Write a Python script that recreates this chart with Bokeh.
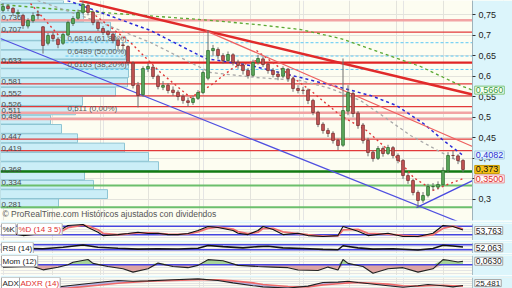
from bokeh.plotting import figure
from bokeh.layouts import column
from bokeh.models import Range1d, FixedTicker, CustomJSTickFormatter, Label, Grid, LinearAxis
from bokeh.core.properties import value
from bokeh.embed import file_html
from bokeh.resources import INLINE

FONT = "Liberation Sans"
W = 512
BG = "#fdfdf1"
SIDE = "#dcf5fb"
GRIDC = "#e3e3dc"
X_END = 93.9      # last bar slot of the chart area (price axis starts here)
X_MAX = 101.9     # right edge of the page

# ---------------- price data (daily candles) ----------------
opens = [0.760,0.770,0.765,0.752,0.748,0.722,0.735,0.750,0.720,0.680,
         0.700,0.690,0.680,0.700,0.728,0.741,0.755,0.772,0.756,0.731,
         0.716,0.708,0.702,0.688,0.676,0.672,0.632,0.578,0.555,0.618,
         0.622,0.600,0.573,0.578,0.566,0.561,0.551,0.540,0.536,0.546,
         0.560,0.595,0.662,0.665,0.650,0.638,0.652,0.634,0.627,0.614,
         0.602,0.634,0.642,0.629,0.614,0.605,0.600,0.617,0.594,0.570,
         0.566,0.566,0.541,0.512,0.483,0.468,0.461,0.444,0.432,0.515,
         0.558,0.510,0.481,0.444,0.415,0.400,0.424,0.412,0.426,0.407,
         0.395,0.358,0.346,0.317,0.298,0.310,0.331,0.330,0.336,0.370,
         0.407,0.406,0.395]
closes = [0.7695,0.7646,0.7549,0.7549,0.7232,0.7354,0.7476,0.7476,0.6746,0.6989,
          0.6916,0.6770,0.7013,0.7305,0.7403,0.7549,0.7743,0.7549,0.7305,0.7159,
          0.7062,0.7013,0.6867,0.6746,0.6746,0.6332,0.5773,0.5529,0.6186,0.6235,
          0.5991,0.5748,0.5773,0.5651,0.5602,0.5505,0.5408,0.5359,0.5456,0.5602,
          0.6089,0.6624,0.6673,0.6502,0.6381,0.6527,0.6332,0.6259,0.6137,0.6016,
          0.6332,0.6429,0.6283,0.6137,0.6040,0.5991,0.6186,0.5943,0.5700,0.5651,
          0.5651,0.5408,0.5116,0.4824,0.4678,0.4605,0.4434,0.4313,0.5164,0.5602,
          0.5091,0.4800,0.4434,0.4142,0.3996,0.4240,0.4118,0.4264,0.4069,0.3947,
          0.3582,0.3461,0.3169,0.2975,0.3096,0.3315,0.3315,0.3364,0.3704,0.4069,
          0.4069,0.3947,0.3730]
highs = [0.778,0.775,0.768,0.762,0.752,0.741,0.755,0.760,0.722,0.705,
         0.708,0.695,0.706,0.735,0.746,0.762,0.784,0.778,0.760,0.736,
         0.722,0.712,0.706,0.692,0.684,0.675,0.636,0.586,0.624,0.632,
         0.626,0.604,0.588,0.583,0.575,0.566,0.556,0.548,0.552,0.566,
         0.614,0.712,0.676,0.670,0.656,0.660,0.656,0.640,0.632,0.620,
         0.640,0.652,0.648,0.633,0.620,0.612,0.624,0.620,0.598,0.578,
         0.574,0.570,0.545,0.516,0.488,0.474,0.466,0.448,0.643,0.578,
         0.562,0.515,0.486,0.450,0.420,0.430,0.429,0.433,0.430,0.412,
         0.398,0.364,0.350,0.322,0.318,0.338,0.340,0.344,0.378,0.415,
         0.418,0.410,0.398]
lows = [0.755,0.758,0.748,0.745,0.715,0.716,0.730,0.738,0.655,0.675,
        0.684,0.668,0.676,0.697,0.722,0.737,0.750,0.748,0.724,0.710,
        0.700,0.694,0.680,0.666,0.664,0.626,0.570,0.524,0.550,0.610,
        0.593,0.568,0.566,0.558,0.552,0.541,0.533,0.526,0.530,0.542,
        0.556,0.590,0.650,0.642,0.630,0.634,0.626,0.618,0.604,0.594,
        0.598,0.628,0.622,0.606,0.597,0.590,0.595,0.586,0.562,0.558,
        0.556,0.532,0.505,0.476,0.460,0.452,0.436,0.420,0.428,0.505,
        0.500,0.472,0.436,0.405,0.392,0.396,0.404,0.408,0.400,0.388,
        0.350,0.338,0.310,0.281,0.292,0.305,0.322,0.324,0.332,0.365,
        0.398,0.386,0.366]
bars = list(range(len(closes)))
month_breaks = [9.9, 19.5, 29.1, 39.3, 49.5, 59.3, 69.3, 78.7, 88.1]

# volume-by-price profile
vp_price = [0.2905,0.3131,0.3358,0.3584,0.3810,0.4037,0.4263,0.4489,0.4716,0.4942,
            0.5168,0.5395,0.5621,0.5847,0.6074,0.6300,0.6526,0.6753,0.6979,0.7205,
            0.7432,0.7658,0.7884]
vp_volume = [58,107,93,84,158,148,124,77,61,50,75,82,115,127,128,128,125,115,115,110,83,82,63]

# support / resistance levels from the profile
levels = [0.736,0.707,0.633,0.581,0.552,0.526,0.511,0.496,0.447,0.419,0.368,0.334,0.281]
level_labels = ["0,736","0,707","0,633","0,581","0,552","0,526","0,511","0,496",
                "0,447","0,419","0,368","0,334","0,281"]
level_kind = ["pink","red","thick","red","red","red","pink","pink","red","red","green2","green","green"]

# fibonacci retracement
fib_levels = [0.6814, 0.6489, 0.6163, 0.511]
fib_labels = ["0,6814 (61,80%)", "0,6489 (50,00%)", "0,6163 (38,20%)", "0,511 (0,00%)"]
fib_start = 12.5

# moving averages / bands
ma_long_x = [-0.5, 11.5, 25.5, 39.5, 50.7, 59.5, 67.5, 75.5, 83.5, 91.5, 93.9]
ma_long_y = [0.7743, 0.7622, 0.7500, 0.7378, 0.7257, 0.7135, 0.6916, 0.6575, 0.6235, 0.5773, 0.5660]
ma_blue_x = [12.9, 29.5, 40.5, 49.5, 59.5, 67.5, 73.5, 78.7, 84.1, 88.1, 91.9]
ma_blue_y = [0.7841, 0.7111, 0.6430, 0.6260, 0.5966, 0.5724, 0.5529, 0.5286, 0.4848, 0.4434, 0.4082]
ma_gray_x = [6.9, 19.5, 29.5, 41.5, 50.7, 59.5, 65.5, 71.5, 76.7, 81.5, 87.7, 92.1]
ma_gray_y = [0.7841, 0.7305, 0.6819, 0.6089, 0.5967, 0.5894, 0.5699, 0.5407, 0.4969, 0.4556, 0.4142, 0.3875]
red_a_x = [5.5, 8.5, 11.5]
red_a_y = [0.7768, 0.7354, 0.6940]
red_b_x = [18.5, 25.5, 31.5, 37.5, 41.5, 46.1, 50.7]
red_b_y = [0.7476, 0.6819, 0.6089, 0.5480, 0.5772, 0.6210, 0.6381]
red_c_x = [50.7, 56.1, 61.5, 67.5, 72.7, 78.7, 82.1, 85.5]
red_c_y = [0.6624, 0.6137, 0.5651, 0.5043, 0.4678, 0.4021, 0.3534, 0.3266]
red_d_x = [85.9, 88.9, 91.9]
red_d_y = [0.3218, 0.3364, 0.3500]

# trend lines
trend_thick_x = [15.3, 93.9]; trend_thick_y = [0.784, 0.5554]
trend_thin_x = [40.5, 93.9]; trend_thin_y = [0.711, 0.4288]
chan_blue_x = [-0.5, 93.9]; chan_blue_y = [0.6916, 0.2318]
supp_blue_x = [82.7, 93.9]; supp_blue_y = [0.2804, 0.3460]

# indicators
k_idx = [0,4,8,10,12,13,16,17,19,20,23,25,27,29,31,33,35,37,39,41,43,46,47,49,51,52,54,56,59,61,64,67,68,71,73,77,80,83,86,88,90,92]
k_val = [38,14,29,36,64,86,93,71,38,14,21,29,38,29,31,21,21,29,50,79,71,50,31,21,50,79,57,21,31,14,7,14,79,45,14,31,7,7,31,86,79,54]
d_val = [40,22,24,33,50,70,88,82,55,30,20,26,33,33,30,25,22,26,40,65,74,60,42,28,38,64,66,40,28,20,10,12,55,58,30,25,15,8,20,65,82,60]
rsi_idx = [0,4,8,12,16,19,23,27,31,35,39,41,44,48,51,53,56,60,64,67,68,71,74,78,81,83,86,88,90,92]
rsi_val = [51,42,38,50,68,50,42,35,38,36,42,64,55,45,55,58,45,40,33,30,62,45,35,38,32,28,40,66,60,52]
mom_idx = [0,6,8,11,13,14,17,18,21,24,26,29,31,34,37,39,41,44,47,51,54,57,59,63,65,67,68,69,72,74,77,80,83,86,88,89,91,92]
mom_val = [-0.042,-0.03,-0.088,-0.042,0.0,0.046,0.093,0.025,-0.03,-0.07,
           -0.128,-0.07,0.03,-0.03,-0.05,-0.01,0.09,0.07,-0.01,-0.03,
           -0.04,-0.05,-0.09,-0.1,-0.04,-0.09,0.093,0.025,-0.03,-0.147,
           -0.07,-0.05,-0.128,-0.07,0.09,0.08,0.05,0.063]
adx_idx = [0,5,8,13,19,23,26,29,34,39,43,46,50,52,57,61,64,67,69,71,77,80,83,85,88,90,92]
adx_val = [14,13,17,25,33,38,36,37,40,42,38,32,25,22,19,24,33,34,36,33,25,21,25,28,25,22,25.5]
adxr_val = [16,15,15,19,26,31,34,36,38,40,40,37,32,28,23,22,27,30,32,33,29,25,24,25,26,25,24]

x_range = Range1d(-0.5, X_MAX)


def make_fig(h, top_border, bottom_border, yr):
    f = figure(width=W, height=h, x_range=x_range, y_range=yr, output_backend="svg",
               toolbar_location=None, x_axis_location=None, y_axis_location=None,
               min_border_left=0, min_border_right=0, min_border_top=top_border,
               min_border_bottom=bottom_border, background_fill_color=BG,
               border_fill_color=SIDE, outline_line_color=None)
    f.add_layout(Grid(dimension=0, ticker=FixedTicker(ticks=month_breaks),
                      grid_line_color=GRIDC, grid_line_width=1))
    # price-scale strip on the right
    f.quad(left=X_END, right=X_MAX, bottom=yr.start, top=yr.end,
           fill_color=SIDE, line_color=None)
    f.segment(x0=X_END, y0=yr.start, x1=X_END, y1=yr.end, line_color="#a9bec6", line_width=1)
    return f


def hline(f, y, color, width, dash="solid", x0=-0.5):
    f.segment(x0=x0, y0=y, x1=X_END, y1=y, line_color=color, line_width=width, line_dash=dash)


def side_label(f, y, text, color, bg, border, size="9px"):
    f.add_layout(Label(x=X_END + 0.45, y=y, text=text, text_color=color,
                       text_font=FONT, text_font_size=size, text_baseline="middle",
                       background_fill_color=bg, border_line_color=border, padding=1))


def title_label(f, x, ytop, text, color):
    f.add_layout(Label(x=x, y=ytop, x_units="screen", y_units="screen", text=text,
                       text_color=color, text_font=FONT, text_font_size="8px",
                       text_baseline="top", background_fill_color="#ffffff",
                       border_line_color="#a8a8a8", padding=1))

# ---------------- main price panel ----------------
p = make_fig(221, 0, 1, Range1d(0.2488, 0.7841))
p.extra_x_ranges = {"vol": Range1d(0, 512)}
yax = LinearAxis(ticker=FixedTicker(ticks=[0.3, 0.35, 0.4, 0.45, 0.5, 0.55, 0.6, 0.65, 0.7, 0.75]),
                 formatter=CustomJSTickFormatter(code="let s = tick.toFixed(2); if (s.endsWith('0')) s = s.slice(0, -1); return s.replace('.', ',');"),
                 fixed_location=X_END,
                 major_label_text_font=FONT, major_label_text_font_size="9px",
                 major_label_text_color="#222222", axis_line_color="#9fb3bb",
                 major_tick_line_color="#333333", major_tick_out=3, major_tick_in=0,
                 minor_tick_line_color=None, major_label_standoff=3)
p.add_layout(yax, "right")
p.add_layout(Grid(dimension=1, ticker=yax.ticker, grid_line_color=GRIDC))

# volume profile
p.hbar(y=vp_price, left=0, right=vp_volume, height=0.0215, x_range_name="vol",
       fill_color="#cbeef7", line_color="#8ec5d3", line_width=1)

# horizontal levels
style = {"pink": ("#f2a4a4", 2.5), "red": ("#e23a3a", 1.3), "thick": ("#e02424", 2.2),
         "green2": ("#127a12", 2.6), "green": ("#6cbf6c", 1.8)}
for lv, kind in zip(levels, level_kind):
    c, w = style[kind]
    hline(p, lv, c, w)
for fl in fib_levels[:3]:
    hline(p, fl, "#5cc8f5", 1, dash="3 2", x0=fib_start)

# moving-average style curves
p.line(ma_long_x, ma_long_y, line_color="#5aa832", line_dash="3 3", line_width=1.3)
p.line(ma_gray_x, ma_gray_y, line_color="#a8a8a8", line_dash="3 3", line_width=1.3)
p.line(ma_blue_x, ma_blue_y, line_color="#2a2ad8", line_dash="3 3", line_width=1.5)
for xs, ys in [(red_a_x, red_a_y), (red_b_x, red_b_y), (red_c_x, red_c_y), (red_d_x, red_d_y)]:
    p.line(xs, ys, line_color="#e03a3a", line_dash="2 3", line_width=1.4)

# trend lines
p.line(trend_thick_x, trend_thick_y, line_color="#e02a2a", line_width=2.4)
p.line(trend_thin_x, trend_thin_y, line_color="#ee6060", line_width=1.3)
p.line(chan_blue_x, chan_blue_y, line_color="#5050e0", line_width=1.2)
p.line(supp_blue_x, supp_blue_y, line_color="#4848e0", line_width=1.4)

# candles
ups = [c >= o for o, c in zip(opens, closes)]
body_top = [max(o, c) for o, c in zip(opens, closes)]
body_bot = [min(o, c) for o, c in zip(opens, closes)]
fills = ["#5eaa5e" if u else "#c65555" for u in ups]
edges = ["#2f6f2f" if u else "#7a3434" for u in ups]
p.segment(x0=bars, y0=lows, x1=bars, y1=highs, line_color="#6e6e6e", line_width=1)
p.vbar(x=bars, width=0.55, top=body_top, bottom=body_bot, fill_color=fills,
       line_color=edges, line_width=0.8)

# texts
p.text(x=[-0.3] * len(levels), y=levels, text=level_labels, text_font=value(FONT),
       text_font_size="8px", text_color="#4a4a4a", text_baseline="bottom")
p.text(x=[fib_start + 0.4] * len(fib_levels), y=fib_levels, text=fib_labels,
       text_font=value(FONT), text_font_size="8px", text_color="#5a5a5a",
       text_baseline="bottom")
p.add_layout(Label(x=2, y=2, x_units="screen", y_units="screen",
                   text="\u00a9 ProRealTime.com  Hist\u00f3ricos ajustados con dividendos",
                   text_font=FONT, text_font_size="8.5px", text_color="#555555",
                   text_baseline="bottom"))
side_label(p, 0.5660, "0,5660", "#3a9a3a", "#f6fff6", "#7cc47c")
side_label(p, 0.4082, "0,4082", "#2e2ed0", "#e4f8ff", "#a8cce0")
side_label(p, 0.3500, "0,3500", "#e02828", "#fff6f6", "#e89090")
side_label(p, 0.3730, "0,373", "#111111", "#f6c21a", "#c89a00")

# ---------------- stochastic ----------------
ps = make_fig(19, 2, 0, Range1d(-21, 100))
for lv in [20, 80]:
    hline(ps, lv, "#4646e0", 1.5)
ps.line(k_idx, d_val, line_color="#ee7070", line_width=1.8)
ps.line(k_idx, k_val, line_color="#111111", line_width=1.1)
title_label(ps, 1, 17, "%K", "#222222")
title_label(ps, 17, 17, "%D (14 3 5)", "#e03030")
side_label(ps, 50.0, "53,763", "#222222", "#ffffff", "#a0a0a0", size="8.5px")

# ---------------- RSI ----------------
pr = make_fig(13, 2, 0, Range1d(0, 88))
for lv in [30, 70]:
    hline(pr, lv, "#4646e0", 1.4)
pr.line(rsi_idx, rsi_val, line_color="#111111", line_width=1.6)
title_label(pr, 1, 11, "RSI (14)", "#222222")
side_label(pr, 46.0, "52,063", "#222222", "#ffffff", "#a0a0a0", size="8.5px")

# ---------------- Momentum ----------------
pm = make_fig(22, 2, 0, Range1d(-0.187, 0.163))
mom_pos = [v if v > 0 else 0 for v in mom_val]
mom_neg = [v if v < 0 else 0 for v in mom_val]
pm.varea(x=mom_idx, y1=0, y2=mom_pos, fill_color="#9fd08f", fill_alpha=0.9)
pm.varea(x=mom_idx, y1=0, y2=mom_neg, fill_color="#d99a9a", fill_alpha=0.9)
hline(pm, 0, "#4646e0", 1.4)
pm.line(mom_idx, mom_val, line_color="#222222", line_width=1.1)
title_label(pm, 1, 20, "Mom (12)", "#222222")
side_label(pm, 0.063, "0,0630", "#222222", "#ffffff", "#a0a0a0", size="8.5px")

# ---------------- ADX ----------------
pa = make_fig(13, 2, 0, Range1d(18, 45.5))
pa.varea(x=adx_idx, y1=adx_val, y2=adxr_val, fill_color="#8c8ce0", fill_alpha=0.6)
pa.line(adx_idx, adxr_val, line_color="#ee6a6a", line_width=1.6)
pa.line(adx_idx, adx_val, line_color="#222222", line_width=1.1)
title_label(pa, 1, 11, "ADX", "#222222")
title_label(pa, 19, 11, "ADXR (14)", "#e03030")
side_label(pa, 31.5, "25,481", "#222222", "#ffffff", "#a0a0a0", size="8px")

layout = column(p, ps, pr, pm, pa, spacing=0)
open("out.html", "w").write(file_html(layout, INLINE))
